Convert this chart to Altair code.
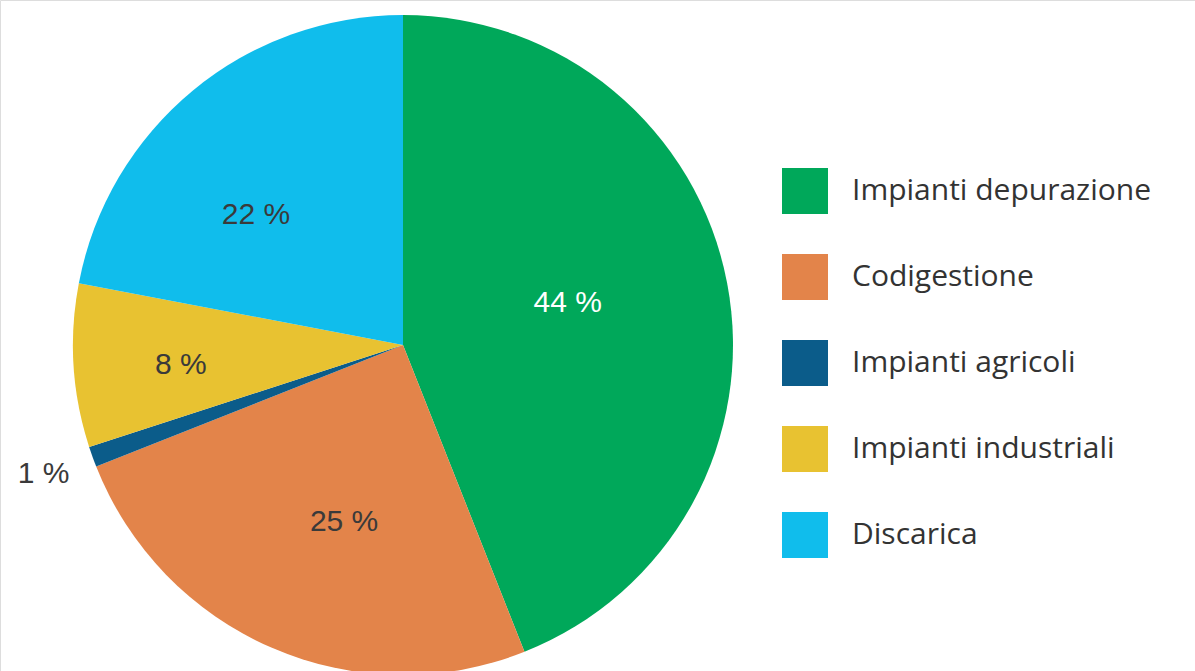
import altair as alt
import pandas as pd

categories = ["Impianti depurazione", "Codigestione", "Impianti agricoli", "Impianti industriali", "Discarica"]
values = [44, 25, 1, 8, 22]
labels = ["44 %", "25 %", "1 %", "8 %", "22 %"]
colors = ["#00A85A", "#E3844A", "#0B5C8A", "#E8C231", "#10BDEC"]
label_colors = ["#FFFFFF", "#3A3A3A", "#3A3A3A", "#3A3A3A", "#3A3A3A"]
label_radius = [170, 187, 382, 223, 196]
label_shift = [-1.0, -1.4, 0.0, -0.4, -2.5]

df = pd.DataFrame({
    "cat": categories,
    "val": values,
    "lab": labels,
    "ord": list(range(len(categories))),
    "lcol": label_colors,
    "lr": label_radius,
    "shift": label_shift,
})

theta_scale = alt.Scale(domain=[0, 100], range=[0, 6.283185307179586])

base = alt.Chart(df).transform_window(
    cum="sum(val)", sort=[alt.SortField("ord")], frame=[None, 0]
).transform_calculate(
    start="datum.cum - datum.val",
    mid="datum.cum - datum.val / 2 + datum.shift",
)

arcs = base.mark_arc(outerRadius=330, stroke=None).encode(
    x=alt.value(403),
    y=alt.value(345),
    theta=alt.Theta("start:Q", scale=theta_scale, stack=None),
    theta2="cum:Q",
    color=alt.Color(
        "cat:N",
        scale=alt.Scale(domain=categories, range=colors),
        sort=categories,
        legend=alt.Legend(
            title=None,
            orient="none",
            legendX=782,
            legendY=168,
            symbolType="square",
            symbolSize=2116,
            symbolStrokeWidth=0,
            symbolOpacity=1,
            labelFontSize=30,
            labelFont="Open Sans",
            labelColor="#333333",
            labelOffset=24,
            rowPadding=40,
            labelLimit=400,
        ),
    ),
)

texts = base.mark_text(font="Liberation Sans", fontSize=30).encode(
    x=alt.value(403),
    y=alt.value(345),
    theta=alt.Theta("mid:Q", scale=theta_scale, stack=None),
    radius=alt.Radius("lr:Q", scale=None),
    text="lab:N",
    color=alt.Color("lcol:N", scale=None),
)

chart = alt.layer(arcs, texts).properties(
    width=1195,
    height=671,
    autosize=alt.AutoSizeParams(type="none"),
    padding=0,
).configure_view(stroke=None).configure(background="white")

chart.save("out.html", embed_options={"renderer": "svg", "actions": False})
